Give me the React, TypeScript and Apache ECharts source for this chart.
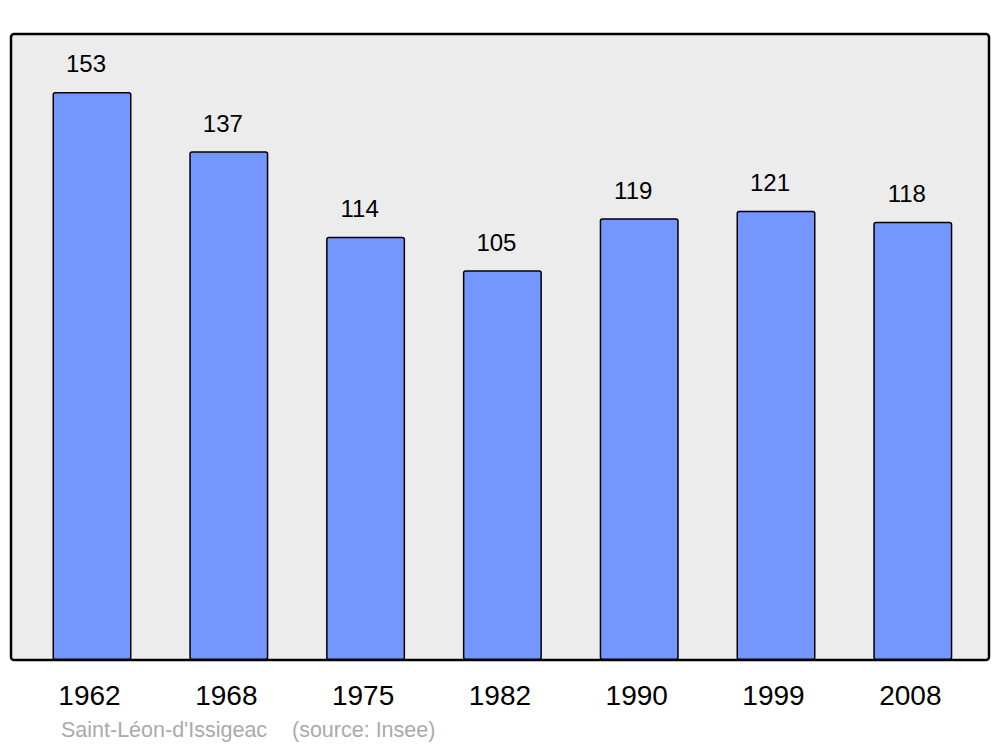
import React, { useEffect, useRef } from "react";
import * as echarts from "echarts";

const years = ["1962", "1968", "1975", "1982", "1990", "1999", "2008"];
const population = [153, 137, 114, 105, 119, 121, 118];
const commune = "Saint-Léon-d'Issigeac";
const source = "(source: Insee)";

export default function App() {
  const ref = useRef<HTMLDivElement>(null);
  useEffect(() => {
    const chart = echarts.init(ref.current!, null, { renderer: "svg" });
    const font = "Liberation Sans, Arial, sans-serif";
    chart.setOption({
      animation: false,
      backgroundColor: "#ffffff",
      textStyle: { fontFamily: font },
      grid: { left: 23.6, right: 18.8, top: 34, bottom: 87 },
      xAxis: {
        type: "category",
        data: years,
        axisLine: { show: false },
        axisTick: { show: false },
        axisLabel: { fontSize: 28, color: "#000", margin: 21, fontFamily: font, padding: [0, 5, 0, 0] },
      },
      yAxis: { type: "value", min: 0, max: 168.6, show: false, splitLine: { show: false } },
      graphic: [
        {
          type: "rect",
          z: -10,
          shape: { x: 11, y: 34, width: 978, height: 626, r: 3 },
          style: { fill: "#ececec", stroke: "#000", lineWidth: 2.5 },
        },
        {
          type: "text",
          x: 61,
          y: 730,
          style: { text: commune, fill: "#aaaaaa", fontSize: 21.5, fontFamily: font, textVerticalAlign: "middle" },
        },
        {
          type: "text",
          x: 292,
          y: 730,
          style: { text: source, fill: "#aaaaaa", fontSize: 21.5, fontFamily: font, textVerticalAlign: "middle" },
        },
      ],
      series: [
        {
          type: "bar",
          data: population,
          barWidth: 79,
          itemStyle: { color: "#7396ff", borderColor: "#000", borderWidth: 1.5, borderRadius: 2 },
          label: {
            show: true,
            position: "top",
            distance: 16,
            offset: [-6, 0],
            fontSize: 24,
            color: "#000",
            fontFamily: font,
          },
        },
      ],
    });
    return () => chart.dispose();
  }, []);
  return <div ref={ref} style={{ position: "fixed", left: 0, top: 0, width: 1000, height: 747 }} />;
}
